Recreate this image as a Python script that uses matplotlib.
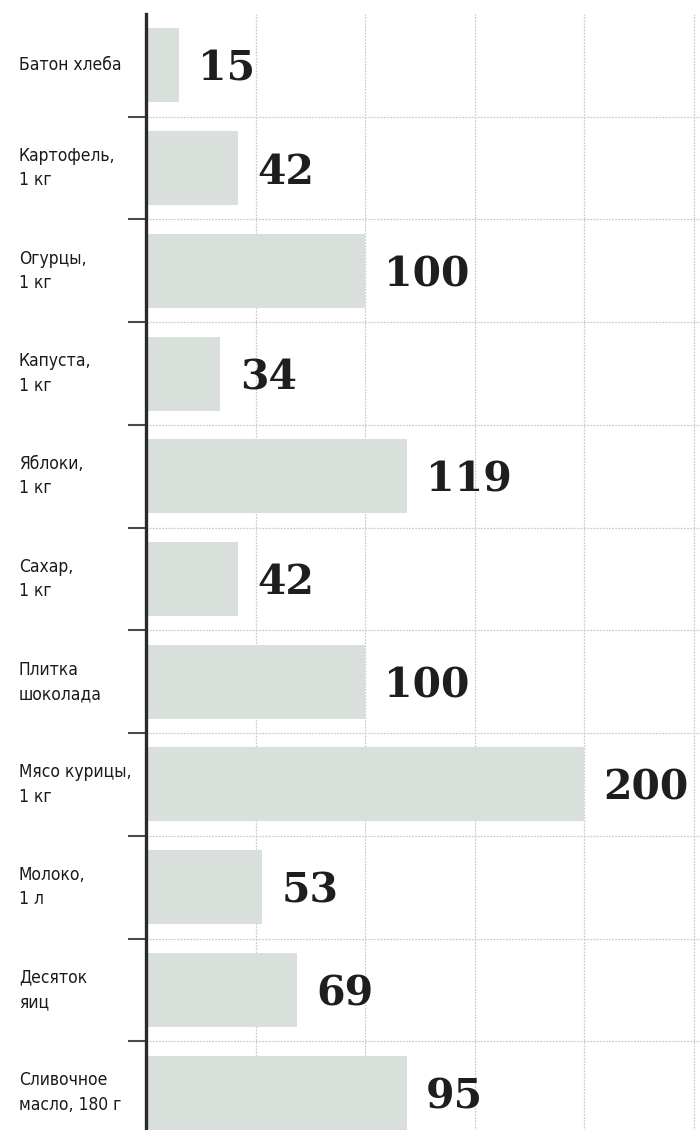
import matplotlib
matplotlib.use("Agg")
import matplotlib.pyplot as plt
from matplotlib.transforms import blended_transform_factory
from matplotlib.ticker import FixedLocator

categories = [
    "Батон хлеба",
    "Картофель,\n1 кг",
    "Огурцы,\n1 кг",
    "Капуста,\n1 кг",
    "Яблоки,\n1 кг",
    "Сахар,\n1 кг",
    "Плитка\nшоколада",
    "Мясо курицы,\n1 кг",
    "Молоко,\n1 л",
    "Десяток\nяиц",
    "Сливочное\nмасло, 180 г",
]
# bar lengths as drawn in the picture (the last bar is drawn as long as the 119 one)
bar_lengths = [15, 42, 100, 34, 119, 42, 100, 200, 53, 69, 119]
value_labels = ["15", "42", "100", "34", "119", "42", "100", "200", "53", "69", "95"]
grid_values = [50, 100, 150, 200, 250]

W, H = 700, 1130
fig = plt.figure(figsize=(W / 100, H / 100), dpi=100)
fig.patch.set_facecolor("white")

left_px, top_px = 146, 14
row_h = 1130 / 11
ax = fig.add_axes([left_px / W, (H - top_px - 11 * row_h) / H,
                   (W - left_px) / W, 11 * row_h / H])

n = len(categories)
ypos = list(range(n))
ax.barh(ypos, bar_lengths, height=0.72, color="#d9dfdb", zorder=2)

ax.set_xlim(0, (W - left_px) / 2.19)
ax.set_ylim(n - 0.5, -0.5)

# grid
ax.xaxis.set_major_locator(FixedLocator(grid_values))
ax.yaxis.set_major_locator(FixedLocator([]))
ax.yaxis.set_minor_locator(FixedLocator([i + 0.5 for i in range(n - 1)]))
ax.grid(True, axis="x", which="major", color="#cccccc", linestyle=(0, (1.5, 1.0)),
        linewidth=0.9, zorder=1)
ax.grid(True, axis="y", which="minor", color="#cccccc", linestyle=(0, (1.5, 1.0)),
        linewidth=0.9, zorder=1)
ax.set_axisbelow(True)

ax.tick_params(axis="x", which="both", length=0, labelbottom=False)
ax.tick_params(axis="y", which="minor", direction="out", length=13, width=1.5,
               color="#4a4a4a", left=True)
ax.tick_params(axis="y", which="major", length=0, labelleft=False)

for s in ("top", "right", "bottom"):
    ax.spines[s].set_visible(False)
ax.spines["left"].set_linewidth(2.4)
ax.spines["left"].set_color("#2a2a2a")
ax.spines["left"].set_zorder(5)

# category labels
trans = blended_transform_factory(fig.transFigure, ax.transData)
for i, cat in enumerate(categories):
    ax.text(19 / W, i, cat, transform=trans, ha="left", va="center",
            fontsize=12.5, linespacing=1.45, color="#1a1a1a",
            family=["DejaVu Sans"], stretch="condensed")

# value labels
for i, (v, lab) in enumerate(zip(bar_lengths, value_labels)):
    ax.annotate(lab, xy=(v, i), xytext=(14, 0), textcoords="offset points",
                ha="left", va="center_baseline", fontsize=29.5, fontweight="bold",
                color="#1e1e1e", family=["DejaVu Serif"], zorder=4)

fig.savefig("out.png", dpi=100, facecolor="white")
